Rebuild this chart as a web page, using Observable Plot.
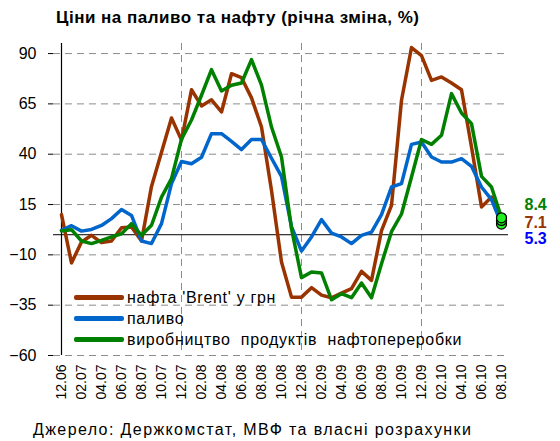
<!DOCTYPE html>
<html><head><meta charset="utf-8">
<script src="https://cdn.jsdelivr.net/npm/d3@7"></script>
<script src="https://cdn.jsdelivr.net/npm/@observablehq/plot@0.6"></script>
<style>
body{margin:0;background:#fff;font-family:"Liberation Sans",Arial,sans-serif;color:#000;}
#wrap{position:relative;width:560px;height:441px;overflow:hidden;}
#chart{position:absolute;left:0;top:0;}
#title{position:absolute;left:56px;top:8px;font-weight:bold;font-size:17px;letter-spacing:0.5px;white-space:nowrap;}
#legend{position:absolute;left:74px;top:287px;font-size:16px;line-height:21px;letter-spacing:0.7px;}
#legend div{white-space:pre;height:21px;}
#legend span.sw{display:inline-block;width:50px;height:5px;vertical-align:middle;margin-right:3px;position:relative;top:-1px;border-radius:2px;}
#source{position:absolute;left:33px;top:421px;font-size:16px;letter-spacing:1.4px;white-space:nowrap;}
</style></head><body>
<div id="wrap">
<div id="chart"></div>
<div id="title">Ціни на паливо та нафту (річна зміна, %)</div>
<div id="legend">
<div><span class="sw" style="background:#993300"></span>нафта 'Brent' у грн</div>
<div><span class="sw" style="background:#0066CC"></span>паливо</div>
<div><span class="sw" style="background:#008000"></span>виробництво  продуктів  нафтопереробки</div>
</div>
<div id="source">Джерело: Держкомстат, МВФ та власні розрахунки</div>
</div>
<script>
const months = ["12.06","01.07","02.07","03.07","04.07","05.07","06.07","07.07","08.07","09.07","10.07","11.07",
"12.07","01.08","02.08","03.08","04.08","05.08","06.08","07.08","08.08","09.08","10.08","11.08",
"12.08","01.09","02.09","03.09","04.09","05.09","06.09","07.09","08.09","09.09","10.09","11.09",
"12.09","01.10","02.10","03.10","04.10","05.10","06.10","07.10","08.10"];
const tickLabels = ["12.06","02.07","04.07","06.07","08.07","10.07","12.07","02.08","04.08","06.08","08.08","10.08",
"12.08","02.09","04.09","06.09","08.09","10.09","12.09","02.10","04.10","06.10","08.10"];
const yearGrid = ["12.07","12.08","12.09"];
const yTicks = [-60,-35,-10,15,40,65,90];
const brent = [10,-14,-3.6,-0.3,-3.9,-3.1,3.5,3.8,-3.1,24,41,58,47,72,64,67,61,80,78,68,53.5,22,-13.6,-31,-31,-26.3,-30,-31.3,-29,-26.8,-18.2,-22.7,2,14.6,66.8,93,89,76.7,78.4,75.4,72,43.6,13.8,18.7,7.1];
const fuel = [2.2,4.5,1.8,2.6,4.6,8,12.5,9.6,-3.1,-4.4,5.5,25.4,36.4,35.3,38.5,50.2,50.2,46.4,42.3,47.3,47.3,38,29,4,-8.1,-1.1,7.5,0.8,-1.1,-4.4,-0.3,1.3,10,23.7,25.4,44.9,46.1,38.6,36.1,36.1,37.8,34,23.7,17.4,5.3];
const refining = [1.9,2.5,-3.1,-4.4,-2.8,-1.1,0.5,5.5,-0.3,4.7,18.7,27.9,47.5,57,69.3,82,71.4,74.3,75.4,87,74.3,53.5,38.6,3,-21.3,-18.5,-19,-32.3,-29.3,-31.3,-24,-31.3,-14.4,1.5,10.3,28.7,47.3,44.9,49.4,70.1,60.5,55.2,29,23.7,8.4];

const data = months.map((m,i)=>({m, brent:brent[i], fuel:fuel[i], refining:refining[i]}));
const last = [data[data.length-1]];
const cBrent="#993300", cFuel="#0066CC", cRef="#008000";
const grid = {stroke:"#8c8c8c", strokeOpacity:1, strokeWidth:1, strokeDasharray:"7,5"};

const chart = Plot.plot({
  width:560, height:441,
  marginLeft:53, marginRight:52, marginTop:43, marginBottom:86,
  style:{fontFamily:"'Liberation Sans', Arial, sans-serif", color:"#000", background:"transparent"},
  x:{type:"point", domain:months, padding:0, label:null},
  y:{domain:[-60,95], label:null},
  marks:[
    Plot.ruleY(yTicks, grid),
    Plot.ruleX(yearGrid, grid),
    Plot.ruleY([0], {stroke:"#000", strokeWidth:1}),
    Plot.ruleX([months[0]], {stroke:"#000", strokeWidth:1.2}),
    Plot.axisY({ticks:yTicks, tickSize:5, tickPadding:12, fontSize:16, label:null}),
    Plot.axisX({ticks:tickLabels, tickSize:0, tickPadding:9, tickRotate:-90, fontSize:14, label:null}),
    Plot.line(data, {x:"m", y:"brent", stroke:cBrent, strokeWidth:3.5}),
    Plot.line(data, {x:"m", y:"fuel", stroke:cFuel, strokeWidth:3.5}),
    Plot.line(data, {x:"m", y:"refining", stroke:cRef, strokeWidth:3.5}),
    Plot.dot(last, {x:"m", y:"fuel", r:5, fill:"#22ee22", stroke:"#000", strokeWidth:1.3}),
    Plot.dot(last, {x:"m", y:"brent", r:5, fill:"#22ee22", stroke:"#000", strokeWidth:1.3}),
    Plot.dot(last, {x:"m", y:"refining", r:5, fill:"#22ee22", stroke:"#000", strokeWidth:1.3}),
    Plot.text(last, {x:"m", y:"refining", text:d=>d.refining.toFixed(1), dx:23, dy:-13, textAnchor:"start", fill:cRef, fontWeight:"bold", fontSize:16}),
    Plot.text(last, {x:"m", y:"brent", text:d=>d.brent.toFixed(1), dx:23, dy:2, textAnchor:"start", fill:cBrent, fontWeight:"bold", fontSize:16}),
    Plot.text(last, {x:"m", y:"fuel", text:d=>d.fuel.toFixed(1), dx:23, dy:15, textAnchor:"start", fill:"#0000FF", fontWeight:"bold", fontSize:16})
  ]
});
document.getElementById("chart").appendChild(chart);
</script>
</body></html>
